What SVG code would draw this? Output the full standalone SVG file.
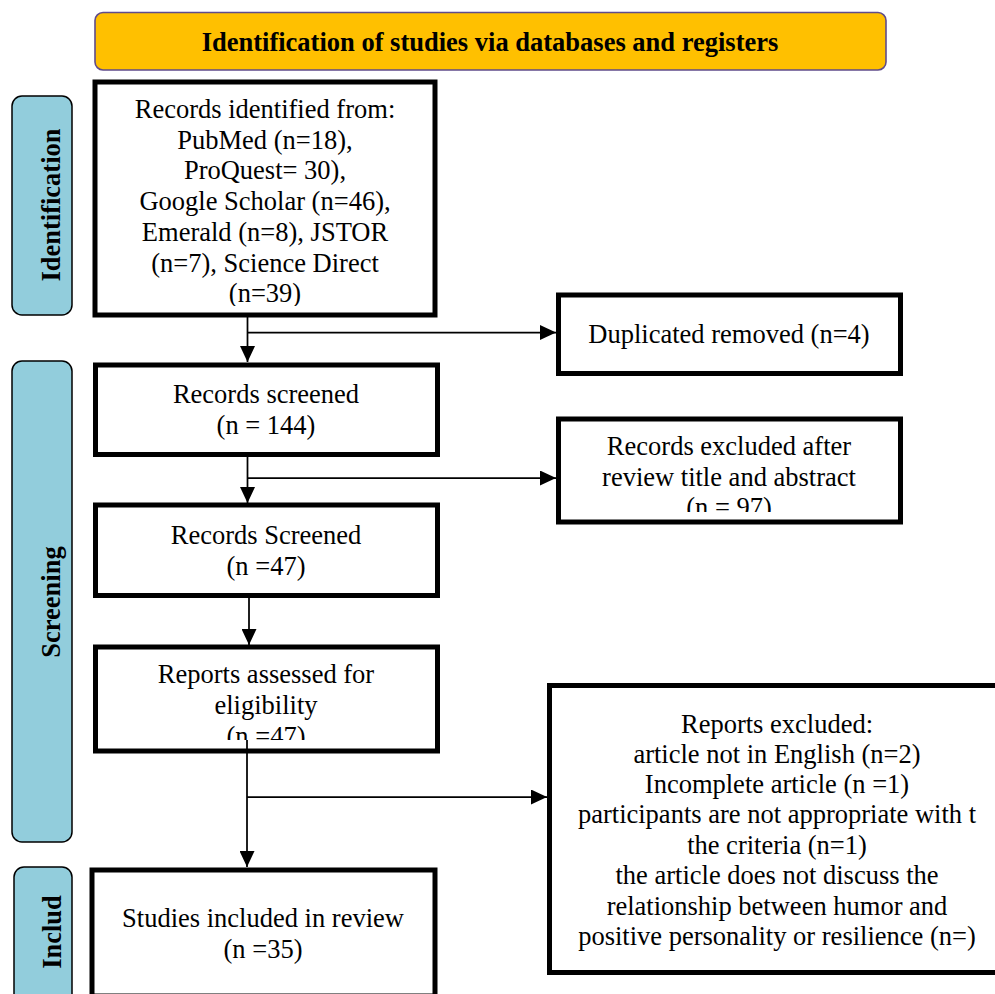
<svg xmlns="http://www.w3.org/2000/svg" width="995" height="994" viewBox="0 0 995 994">
<style>
  .box { fill: #ffffff; stroke: #000000; stroke-width: 5; }
  .side { fill: #92CDDC; stroke: #000000; stroke-width: 1.5; }
  .hdr { fill: #FFC000; stroke: #5F4B8B; stroke-width: 1.6; }
  .t { font-family: "Liberation Serif", "Times New Roman", serif; font-size: 26.5px; fill: #000000; text-anchor: middle; }
  .b { font-weight: bold; }
  .c { fill: none; stroke: #000000; stroke-width: 1.75; }
</style>
<defs>
  <marker id="arr" markerUnits="userSpaceOnUse" markerWidth="16" markerHeight="15" refX="16" refY="7.5" orient="auto">
    <path d="M0,0 L16,7.5 L0,15 z" fill="#000000"/>
  </marker>
  <clipPath id="clipId"><rect x="95" y="82" width="340" height="224"/></clipPath>
  <clipPath id="clipEx"><rect x="558" y="419" width="342" height="93"/></clipPath>
  <clipPath id="clipRa"><rect x="95" y="647" width="342" height="93"/></clipPath>
</defs>

<g id="header">
  <rect class="hdr" x="95" y="12.5" width="791" height="57.5" rx="8"/>
  <text class="t b" x="490" y="51">Identification of studies via databases and registers</text>
</g>

<g id="side-identification">
  <rect class="side" x="12" y="96" width="60" height="219" rx="10"/>
  <text class="t b" transform="translate(60,205) rotate(-90)">Identification</text>
</g>
<g id="side-screening">
  <rect class="side" x="12" y="361" width="60" height="481" rx="10"/>
  <text class="t b" transform="translate(60,602) rotate(-90)">Screening</text>
</g>
<g id="side-included">
  <rect class="side" x="14" y="867" width="58" height="140" rx="10"/>
  <text class="t b" transform="translate(61,932) rotate(-90)">Includ</text>
</g>

<g id="connectors">
  <line class="c" x1="247.5" y1="317" x2="247.5" y2="362" marker-end="url(#arr)"/>
  <line class="c" x1="247.5" y1="332.5" x2="556" y2="332.5" marker-end="url(#arr)"/>
  <line class="c" x1="247.5" y1="457" x2="247.5" y2="503" marker-end="url(#arr)"/>
  <line class="c" x1="247.5" y1="478" x2="556" y2="478" marker-end="url(#arr)"/>
  <line class="c" x1="249" y1="598" x2="249" y2="645" marker-end="url(#arr)"/>
</g>

<g id="records-identified">
  <rect class="box" x="95" y="82" width="340" height="233"/>
  <g clip-path="url(#clipId)">
    <text class="t" x="265" y="118">Records identified from:</text>
    <text class="t" x="265" y="148.7">PubMed (n=18),</text>
    <text class="t" x="265" y="179.4">ProQuest= 30),</text>
    <text class="t" x="265" y="210">Google Scholar (n=46),</text>
    <text class="t" x="265" y="240.8">Emerald (n=8), JSTOR</text>
    <text class="t" x="265" y="271.5">(n=7), Science Direct</text>
    <text class="t" x="265" y="302">(n=39)</text>
  </g>
</g>

<g id="duplicated">
  <rect class="box" x="558.5" y="295" width="342" height="78.5"/>
  <text class="t" x="729" y="343">Duplicated removed (n=4)</text>
</g>

<g id="records-screened">
  <rect class="box" x="95.5" y="365" width="342" height="89.5"/>
  <text class="t" x="266" y="403">Records screened</text>
  <text class="t" x="266" y="434">(n = 144)</text>
</g>

<g id="records-excluded">
  <rect class="box" x="558.5" y="419" width="342" height="103"/>
  <g clip-path="url(#clipEx)">
    <text class="t" x="729" y="455">Records excluded after</text>
    <text class="t" x="729" y="485.5">review title and abstract</text>
    <text class="t" x="729" y="516">(n = 97)</text>
  </g>
</g>

<g id="records-screened-2">
  <rect class="box" x="95.5" y="505" width="342" height="90.5"/>
  <text class="t" x="266" y="544">Records Screened</text>
  <text class="t" x="266" y="575">(n =47)</text>
</g>

<g id="reports-assessed">
  <rect class="box" x="95.5" y="647" width="342" height="104"/>
  <g clip-path="url(#clipRa)">
    <text class="t" x="266" y="683.3">Reports assessed for</text>
    <text class="t" x="266" y="714">eligibility</text>
    <text class="t" x="266" y="745">(n =47)</text>
  </g>
</g>

<g id="connectors-2">
  <line class="c" x1="247" y1="740" x2="247" y2="867" marker-end="url(#arr)"/>
  <line class="c" x1="247" y1="797" x2="547" y2="797" marker-end="url(#arr)"/>
</g>

<g id="reports-excluded">
  <rect class="box" x="549.5" y="685.5" width="460" height="287"/>
  <text class="t" x="777" y="733">Reports excluded:</text>
  <text class="t" x="777" y="763">article not in English (n=2)</text>
  <text class="t" x="777" y="793">Incomplete article (n =1)</text>
  <text class="t" x="777" y="823">participants are not appropriate with t</text>
  <text class="t" x="777" y="854">the criteria (n=1)</text>
  <text class="t" x="777" y="884">the article does not discuss the</text>
  <text class="t" x="777" y="915">relationship between humor and</text>
  <text class="t" x="777" y="945">positive personality or resilience (n=)</text>
</g>

<g id="studies-included">
  <rect class="box" x="92" y="870" width="343" height="126"/>
  <text class="t" x="263" y="927">Studies included in review</text>
  <text class="t" x="263" y="958">(n =35)</text>
</g>
</svg>
